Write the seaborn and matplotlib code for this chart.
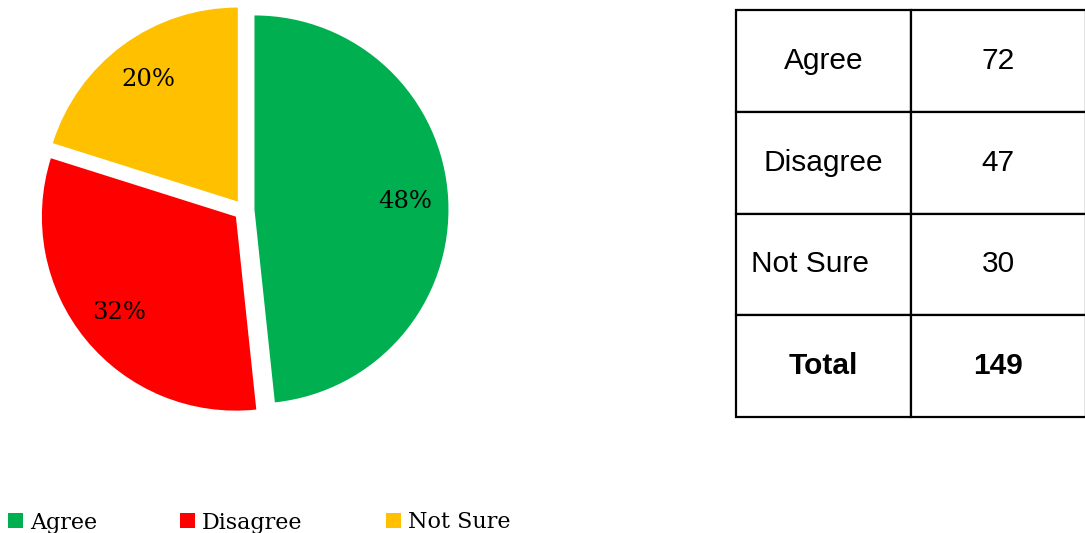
import matplotlib
matplotlib.use("Agg")
import matplotlib.pyplot as plt
import seaborn as sns

# ---- data ----
categories = ["Agree", "Disagree", "Not Sure"]
counts = [72, 47, 30]
total_label = "Total"
total_value = 149
colors = ["#00B050", "#FF0000", "#FFC000"]

sns.set_theme(style="white")
plt.rcParams["font.family"] = ["DejaVu Serif"]
plt.rcParams["text.color"] = "black"

W, H = 1085, 533
fig = plt.figure(figsize=(W / 100, H / 100), dpi=100)
fig.patch.set_facecolor("white")

# ---- pie ----
R_px = 194.0
cx, cy = 244.0, 210.0
S = 440.0
ax = fig.add_axes([(cx - S / 2) / W, (H - cy - S / 2) / H, S / W, S / H])
wedges, texts, autotexts = ax.pie(
    counts,
    colors=sns.color_palette(colors),
    explode=[0.054] * len(counts),
    startangle=90,
    counterclock=False,
    autopct="%.0f%%",
    pctdistance=0.78,
    wedgeprops=dict(linewidth=0),
    textprops=dict(fontsize=17.5, family="DejaVu Serif", color="black"),
)
L = (S / 2) / R_px
ax.set_xlim(-L, L)
ax.set_ylim(-L, L)
ax.set_aspect("auto")
ax.axis("off")

# ---- legend ----
fig.legend(
    wedges,
    categories,
    loc="center left",
    bbox_to_anchor=(8 / W, (H - 522.5) / H),
    ncol=3,
    frameon=False,
    handlelength=0.68,
    handleheight=0.68,
    handletextpad=0.3,
    columnspacing=3.75,
    borderpad=0,
    borderaxespad=0,
    labelcolor="black",
    prop=dict(family="DejaVu Serif", size=16),
)

# ---- table ----
tax = fig.add_axes([0, 0, 1, 1])
tax.axis("off")
cell_text = [[c, str(v)] for c, v in zip(categories, counts)] + [[total_label, str(total_value)]]
x0, x1 = 736.0, 1085.5
y0, y1 = 10.0, 417.0
tbl = tax.table(
    cellText=cell_text,
    cellLoc="center",
    bbox=[x0 / W, (H - y1) / H, (x1 - x0) / W, (y1 - y0) / H],
)
tbl.auto_set_font_size(False)
nrows = len(cell_text)
for (r, c), cell in tbl.get_celld().items():
    cell.set_edgecolor("black")
    cell.set_linewidth(1.6)
    cell.set_facecolor("white")
    t = cell.get_text()
    t.set_fontsize(21.5)
    t.set_color("black")
    t.set_family(["Liberation Sans", "DejaVu Sans"])
    if r == nrows - 1:
        t.set_fontweight("bold")
    if r == 2 and c == 0:
        cell._loc = "left"
        cell.PAD = 0.085
        t.set_ha("left")

fig.savefig("out.png", dpi=100, facecolor="white")
